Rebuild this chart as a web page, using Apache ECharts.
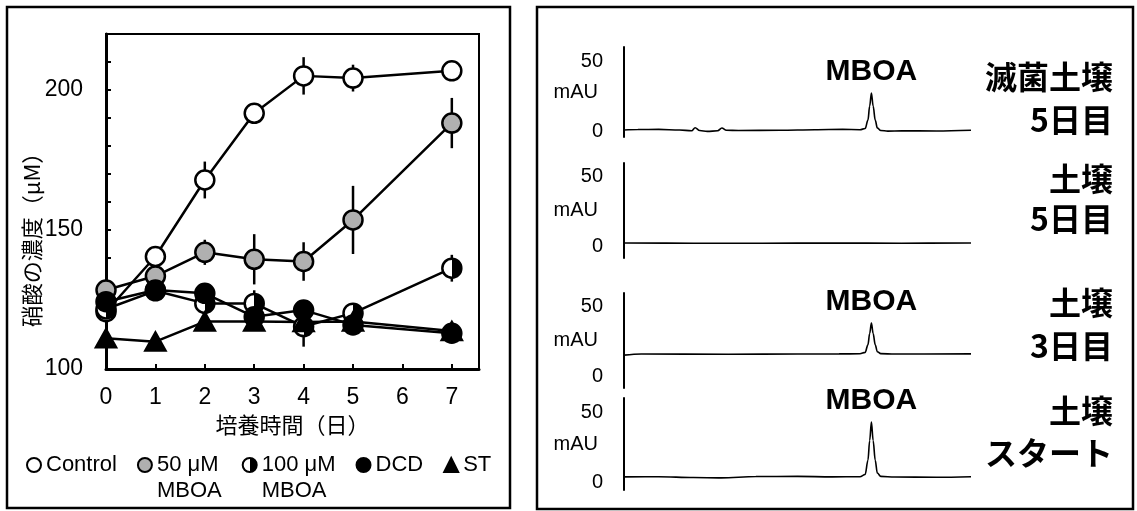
<!DOCTYPE html>
<html><head><meta charset="utf-8">
<script src="https://cdn.jsdelivr.net/npm/echarts@6/dist/echarts.min.js"></script>
<style>html,body{margin:0;padding:0;background:#fff}#c{width:1137px;height:511px}</style>
</head><body><div id="c"></div>
<script>
// ---------- data: left panel (nitrate time course) ----------
const days = [0, 1, 2, 3, 4, 5, 7];
const seriesNames = ['Control', '50 μM MBOA', '100 μM MBOA', 'DCD', 'ST'];
const controlVals = [120.5, 140.3, 167.7, 191.6, 205.0, 204.2, 206.8];
const controlErr  = [1.0, 1.5, 6.6, 1.5, 6.7, 4.8, 1.0];
const mboa50Vals  = [128.3, 133.3, 141.8, 139.3, 138.5, 153.4, 188.1];
const mboa50Err   = [1.0, 1.5, 4.5, 9.0, 6.9, 12.2, 9.0];
const mboa100Vals = [121.5, 128.0, 123.5, 123.5, 115.2, 120.0, 136.1];
const mboa100Err  = [1.0, 1.0, 2.0, 4.7, 7.2, 1.5, 4.8];
const dcdVals     = [124.1, 128.3, 127.1, 118.7, 121.1, 115.8, 112.8];
const dcdErr      = [1.0, 1.0, 1.5, 1.0, 1.5, 1.0, 1.0];
const stVals      = [111.0, 109.8, 117.0, 117.0, 116.8, 117.0, 113.6];
const stErr       = [0.5, 0.5, 1.0, 1.0, 1.0, 1.0, 1.0];
const xTicks = [0, 1, 2, 3, 4, 5, 6, 7];
const yTicks = [100, 110, 120, 130, 140, 150, 160, 170, 180, 190, 200, 210];
const yLabels = [100, 150, 200];
const xAxisTitle = '培養時間（日）';
const yAxisTitle = '硝酸の濃度（μM）';

// ---------- data: right panel (chromatograms, mAU vs relative time) ----------
const trace1 = [[0,1],[4,1.3],[10,1.4],[16,1],[19.5,0.4],[20.5,2.6],[21.8,0.6],[24,0],[27,0.4],[28.2,2.4],[29.5,0.8],[33,0.6],[45,0.8],[55,1.2],[63,1.4],[68,1.2],[69.5,2],[70.3,8],[70.8,18],[71.3,27.3],[71.8,18],[72.4,8],[73,2.5],[74,0.6],[76,0.2],[80,0.4],[90,0.3],[100,0.8]];
const trace2 = [[0,2.7],[20,2.6],[40,2.6],[60,2.7],[80,2.6],[100,2.7]];
const trace3 = [[0,15.5],[5,16.3],[30,16.2],[50,16.3],[62,16.4],[68,16.5],[69.5,17.5],[70.3,23],[70.8,31],[71.3,38.5],[71.8,31],[72.4,23],[73,18],[74,16.6],[78,16.3],[100,16.4]];
const trace4 = [[0,4.3],[10,4.4],[20,3.8],[28,3.6],[38,4.5],[50,4.6],[60,4.3],[68,4.4],[69.5,6],[70.3,16],[70.8,30],[71.3,43],[71.8,30],[72.4,16],[73,7],[74,4.6],[78,4.2],[90,4.0],[100,4.4]];
const traces = [trace1, trace2, trace3, trace4];
const peakLabels = ['MBOA', null, 'MBOA', 'MBOA'];
const chromTicks = [0, 50];
const chromUnit = 'mAU';
const sampleLabels = [['滅菌土壌', '5日目'], ['土壌', '5日目'], ['土壌', '3日目'], ['土壌', 'スタート']];

// ---------- layout / style ----------
const LAT = '"Liberation Sans", Arial, sans-serif';
const CJK = '"Noto Sans CJK JP", sans-serif';
const chromGridTop = [47, 163, 293, 398];
const chromGridH = [90, 95, 95, 92];
const chromYMin = [-4, -8, -8, -5];
const labelY = [[77, 120], [179, 219], [303, 346], [411, 453]];

const chart = echarts.init(document.getElementById('c'), null, {renderer: 'canvas'});

function pairs(vals) { return days.map((d, i) => [d, vals[i]]); }
function errData(vals, errs) { return days.map((d, i) => [d, vals[i] - errs[i], vals[i] + errs[i]]); }
function errSeries(vals, errs) {
  return {
    type: 'custom', xAxisIndex: 0, yAxisIndex: 0, z: 1, silent: true, animation: false,
    data: errData(vals, errs),
    encode: {x: 0, y: [1, 2]},
    renderItem: function (params, api) {
      const p1 = api.coord([api.value(0), api.value(1)]);
      const p2 = api.coord([api.value(0), api.value(2)]);
      return {type: 'line', shape: {x1: p1[0], y1: p1[1], x2: p2[0], y2: p2[1]},
              style: {stroke: '#000', lineWidth: 2.5}};
    }
  };
}
const halfFill = {type: 'linear', x: 0, y: 0, x2: 1, y2: 0,
  colorStops: [{offset: 0, color: '#fff'}, {offset: 0.5, color: '#fff'}, {offset: 0.5, color: '#000'}, {offset: 1, color: '#000'}]};
function lineSeries(name, vals, symbol, size, fill) {
  return {
    type: 'line', name: name, xAxisIndex: 0, yAxisIndex: 0, z: 3, animation: false,
    data: pairs(vals), symbol: symbol, symbolSize: size, showAllSymbol: true,
    lineStyle: {color: '#000', width: 2.5},
    itemStyle: {color: fill, borderColor: '#000', borderWidth: 2.5},
    emphasis: {disabled: true}
  };
}

const grids = [{left: 106, top: 34, width: 373, height: 335, show: true, borderColor: '#000', borderWidth: 2,
                containLabel: false, outerBoundsMode: 'none'}];
const xAxes = [{
  gridIndex: 0, type: 'value', min: 0, max: 7.55, interval: 1,
  axisLine: {show: true, onZero: false, lineStyle: {color: '#000', width: 3}},
  axisTick: {show: true, inside: true, length: 5, customValues: xTicks, lineStyle: {color: '#000', width: 2}},
  axisLabel: {show: true, customValues: xTicks, margin: 17, fontSize: 23, color: '#000', fontFamily: LAT},
  splitLine: {show: false},
  name: xAxisTitle, nameLocation: 'middle', nameGap: 45, nameMoveOverlap: false,
  nameTextStyle: {fontSize: 22, color: '#000', fontFamily: CJK}
}];
const yAxes = [{
  gridIndex: 0, type: 'value', min: 100, max: 220, interval: 10,
  axisLine: {show: true, onZero: false, lineStyle: {color: '#000', width: 3}},
  axisTick: {show: true, inside: true, length: 5, customValues: yTicks, lineStyle: {color: '#000', width: 2}},
  axisLabel: {show: true, customValues: yLabels, margin: 23, fontSize: 23, color: '#000', fontFamily: LAT},
  splitLine: {show: false},
  name: yAxisTitle, nameLocation: 'middle', nameGap: 63, nameMoveOverlap: false,
  nameTextStyle: {fontSize: 22, color: '#000', fontFamily: CJK, padding: [0, 66, 0, 0]}
}];

const series = [
  errSeries(controlVals, controlErr),
  errSeries(mboa50Vals, mboa50Err),
  errSeries(mboa100Vals, mboa100Err),
  errSeries(dcdVals, dcdErr),
  errSeries(stVals, stErr),
  lineSeries(seriesNames[0], controlVals, 'circle', 19, '#fff'),
  lineSeries(seriesNames[1], mboa50Vals, 'circle', 19, '#b0b0b0'),
  lineSeries(seriesNames[2], mboa100Vals, 'circle', 19, halfFill),
  lineSeries(seriesNames[3], dcdVals, 'circle', 19, '#000'),
  lineSeries(seriesNames[4], stVals, 'triangle', [20, 18], '#000')
];

const graphics = [
  {type: 'rect', shape: {x: 7, y: 7, width: 503, height: 501}, style: {fill: 'none', stroke: '#000', lineWidth: 2.5}, silent: true},
  {type: 'rect', shape: {x: 537, y: 7, width: 596, height: 502}, style: {fill: 'none', stroke: '#000', lineWidth: 2.5}, silent: true}
];

traces.forEach((tr, k) => {
  const gi = k + 1;
  grids.push({left: 624, top: chromGridTop[k], width: 347, height: chromGridH[k], show: false,
              containLabel: false, outerBoundsMode: 'none'});
  xAxes.push({gridIndex: gi, type: 'value', min: 0, max: 100, show: false});
  yAxes.push({
    gridIndex: gi, type: 'value', min: chromYMin[k], max: 60,
    axisLine: {show: true, onZero: false, lineStyle: {color: '#000', width: 2}},
    axisTick: {show: false},
    axisLabel: {show: true, customValues: chromTicks, margin: 21, fontSize: 20, color: '#000', fontFamily: LAT},
    splitLine: {show: false},
    name: chromUnit, nameLocation: 'middle', nameRotate: 0, nameGap: 26, nameMoveOverlap: false,
    nameTextStyle: {fontSize: 20, color: '#000', fontFamily: LAT, padding: [16, 0, 0, 0]}
  });
  const s = {
    type: 'line', xAxisIndex: gi, yAxisIndex: gi, data: tr, symbol: 'none', showSymbol: false,
    smooth: 0.35, smoothMonotone: 'x', animation: false, silent: true,
    lineStyle: {color: '#000', width: 1.6}
  };
  if (peakLabels[k]) {
    s.markPoint = {
      symbol: 'circle', symbolSize: 1, itemStyle: {color: 'rgba(0,0,0,0)'}, silent: true, animation: false,
      label: {show: true, position: 'top', distance: 6, formatter: peakLabels[k],
              fontSize: 30, fontWeight: 'bold', color: '#000', fontFamily: LAT},
      data: [{type: 'max'}]
    };
  }
  series.push(s);
  sampleLabels[k].forEach((t, j) => {
    graphics.push({type: 'text', silent: true, style: {
      text: t, x: 1113, y: labelY[k][j], align: 'right', verticalAlign: 'middle',
      fontSize: 32, fontWeight: 'bold', fontFamily: CJK, fill: '#000'}});
  });
});

chart.setOption({
  animation: false,
  backgroundColor: '#fff',
  grid: grids,
  xAxis: xAxes,
  yAxis: yAxes,
  legend: {
    left: 26, top: 426, padding: 0, itemGap: 20, itemWidth: 14, itemHeight: 14, orient: 'horizontal',
    selectedMode: false,
    textStyle: {fontSize: 22, color: '#000', fontFamily: LAT, lineHeight: 26},
    formatter: function (name) { return name.indexOf(' MBOA') >= 0 ? ' \n' + name.replace(' MBOA', '\nMBOA') : name; },
    data: [
      {name: seriesNames[0], icon: 'circle'},
      {name: seriesNames[1], icon: 'circle'},
      {name: seriesNames[2], icon: 'circle'},
      {name: seriesNames[3], icon: 'circle'},
      {name: seriesNames[4], icon: 'triangle'}
    ]
  },
  series: series,
  graphic: graphics
});
</script></body></html>
